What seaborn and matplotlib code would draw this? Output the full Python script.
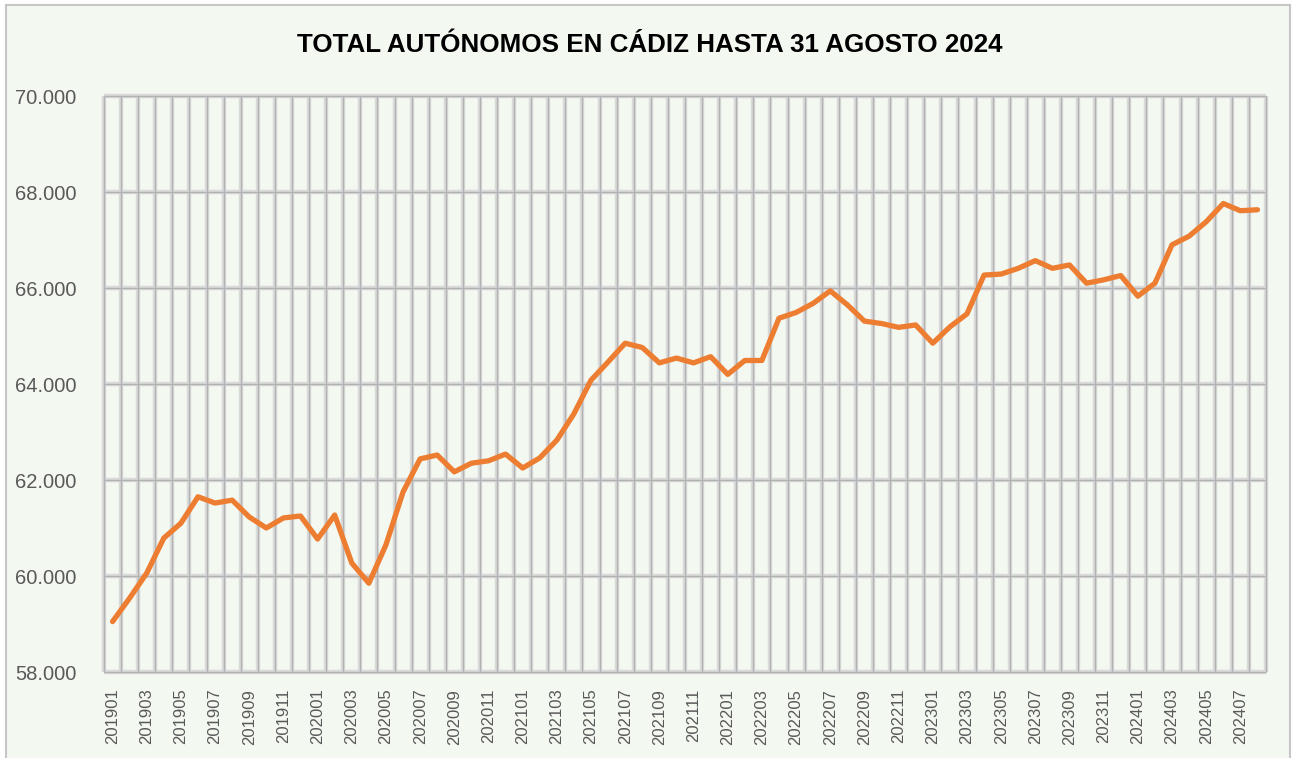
import matplotlib
matplotlib.use("Agg")
import matplotlib.pyplot as plt
from matplotlib.patches import Rectangle
from matplotlib.ticker import FuncFormatter
from matplotlib import font_manager
import seaborn as sns
import pandas as pd
import numpy as np

# Monthly self-employed totals, Cádiz province (Jan 2019 – Aug 2024)
periods = [f"{y}{m:02d}" for y in range(2019, 2025) for m in range(1, 13)][:68]
autonomos = [
    59050, 59540, 60060, 60790, 61100, 61650, 61520, 61580, 61230, 61000, 61210, 61250,
    60770, 61270, 60270, 59850, 60650, 61750, 62440, 62520, 62170, 62350, 62400, 62540,
    62250, 62460, 62830, 63380, 64080, 64460, 64850, 64760, 64440, 64540, 64440, 64570,
    64200, 64490, 64490, 65370, 65490, 65680, 65940, 65650, 65310, 65260, 65180, 65230,
    64850, 65190, 65460, 66270, 66290, 66410, 66570, 66410, 66480, 66100, 66170, 66260,
    65830, 66100, 66900, 67080, 67380, 67760, 67610, 67630,
]
y_ticks = [58000, 60000, 62000, 64000, 66000, 68000, 70000]
title = "TOTAL AUTÓNOMOS EN CÁDIZ HASTA 31 AGOSTO 2024"

df = pd.DataFrame({"periodo": periods, "autonomos": autonomos})
df["pos"] = np.arange(len(df))

sns.set_theme(style="white")


def has_font(name):
    try:
        font_manager.findfont(font_manager.FontProperties(family=name), fallback_to_default=False)
        return True
    except Exception:
        return False


narrow = has_font("Liberation Sans Narrow")
base = "Liberation Sans Narrow" if narrow else "Liberation Sans"
plt.rcParams["font.family"] = [base, "DejaVu Sans"]

bg = "#F3F8F1"
fig = plt.figure(figsize=(12.93, 7.58), dpi=100, facecolor="white")
# chart area with thin border
fig.patches.append(Rectangle((6 / 1293, -0.02), (1290 - 6) / 1293, 1.02 - 5 / 758,
                             transform=fig.transFigure, facecolor=bg,
                             edgecolor="#C6C6C6", linewidth=1.5, zorder=-10))
ax = fig.add_axes([104 / 1293, 1 - 672 / 758, (1266 - 104) / 1293, (672 - 96) / 758])
ax.set_facecolor(bg)

n = len(df)
ax.set_xlim(-0.5, n - 0.5)
ax.set_ylim(y_ticks[0], y_ticks[-1])

# category boundary grid (soft wide line + darker core)
bounds = np.arange(n + 1) - 0.5
ax.vlines(bounds, y_ticks[0], y_ticks[-1], colors="#DADADA", linewidth=3.2, zorder=1, clip_on=False)
ax.vlines(bounds, y_ticks[0], y_ticks[-1], colors="#B2B2B2", linewidth=1.0, zorder=1.1, clip_on=False)
ax.hlines(y_ticks, -0.5, n - 0.5, colors="#DADADA", linewidth=3.2, zorder=1, clip_on=False)
ax.hlines(y_ticks, -0.5, n - 0.5, colors="#B2B2B2", linewidth=1.0, zorder=1.1, clip_on=False)

sns.lineplot(data=df, x="pos", y="autonomos", ax=ax, color="#ED7D31",
             linewidth=3.8, zorder=3, solid_joinstyle="round", solid_capstyle="round")

for s in ax.spines.values():
    s.set_visible(False)

xfs = 14.5 if narrow else 12
yfs = 17 if narrow else 14.5
ax.set_xticks(df["pos"][::2])
ax.set_xticklabels(df["periodo"][::2], rotation=90, fontsize=xfs, color="#595959")
ax.set_yticks(y_ticks)
ax.yaxis.set_major_formatter(FuncFormatter(lambda v, p: f"{int(v):,}".replace(",", ".")))
ax.tick_params(axis="y", labelsize=yfs, colors="#595959", length=0, pad=20)
ax.tick_params(axis="x", length=0, pad=12)
for lbl in ax.get_yticklabels():
    lbl.set_color("#595959")
ax.set_xlabel("")
ax.set_ylabel("")
ax.grid(False)

t = fig.text(650 / 1293, 1 - 45 / 758, title, ha="center", va="center",
             fontsize=23, fontweight="bold", color="black")
# fit the title to its width of about 708 px
fig.canvas.draw()
w = t.get_window_extent().width
t.set_fontsize(23 * min(1.0, 708 / w))

fig.savefig("out.png", dpi=100, facecolor="white")
